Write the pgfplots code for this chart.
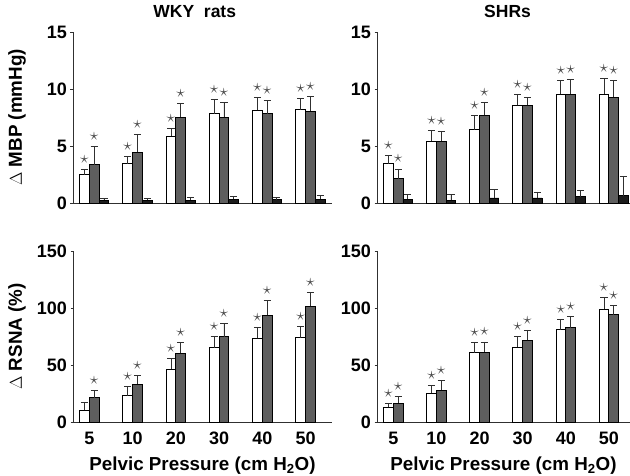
\documentclass[border=0pt]{standalone}
\usepackage{pgfplots}
\usepackage{pgfplotstable}
\pgfplotsset{compat=1.18}
\usepackage{fontspec}
\setmainfont{Liberation Sans}

\definecolor{barGray}{HTML}{5E5E5E}
\definecolor{barBlack}{HTML}{1C1C1C}
\definecolor{axisGray}{HTML}{303030}
\definecolor{starGray}{HTML}{4A4A4A}

\newcommand\tickfont{\fontsize{18}{18}\selectfont\bfseries}
\newcommand\labfont{\fontsize{18.8}{18.8}\selectfont\bfseries}
\newcommand\titfont{\fontsize{17.5}{17.5}\selectfont\bfseries}
\newcommand\starsym{{\fontsize{17.5}{17.5}\selectfont$\star$}}

% i = group (5,10,20,30,40,50 cm H2O); w/g/b = white/gray/black bar, e = SEM, s = star flag
\pgfplotstableread{
i w    we   ws g    ge   gs b    be
0 2.46 0.50 1  3.37 1.58 1  0.26 0.18
1 3.43 0.67 1  4.45 1.59 1  0.25 0.15
2 5.86 0.70 1  7.53 1.23 1  0.25 0.25
3 7.85 1.26 1  7.53 1.29 1  0.35 0.21
4 8.15 1.11 1  7.85 1.15 1  0.30 0.15
5 8.17 1.00 1  8.06 1.26 1  0.35 0.30
}\wkyMBP
\pgfplotstableread{
i w    we   ws g    ge   gs b    be
0 3.43 0.76 1  2.14 0.85 1  0.32 0.44
1 5.42 0.91 1  5.42 0.82 1  0.26 0.50
2 6.42 1.26 1  7.68 1.14 1  0.44 0.73
3 8.56 0.93 1  8.56 0.73 1  0.44 0.53
4 9.55 1.17 1  9.55 1.26 1  0.56 0.52
5 9.55 1.41 1  9.29 1.43 1  0.62 1.69
}\shrMBP
\pgfplotstableread{
i w    we   ws g     ge   gs
0 10.5 6.7  0  21.3  6.7  1
1 23.0 8.2  1  33.2  7.6  1
2 46.3 9.3  1  60.3  9.6  1
3 65.0 10.4 1  74.9  11.6 1
4 73.4 9.9  1  93.5  13.1 1
5 74.0 9.6  1  101.4 11.9 1
}\wkyRSNA
\pgfplotstableread{
i w    we   ws g    ge   gs
0 13.1 3.5  1  16.6 5.8  1
1 25.3 6.4  1  28.0 8.7  1
2 60.6 9.0  1  61.2 9.0  1
3 65.8 9.4  1  71.7 9.0  1
4 81.0 9.0  1  82.7 10.2 1
5 98.7 10.5 1  94.1 8.1  1
}\shrRSNA

\pgfplotsset{
  panel/.style={
    scale only axis, height=171pt,
    axis lines=left, axis line style={-, draw=axisGray, line width=0.8pt},
    xmin=-0.49, ymin=0,
    tick align=outside, major tick length=2.5pt,
    tick style={axisGray, line width=0.8pt},
    xtick style={draw=none},
    /pgf/number format/assume math mode=true,
    yticklabel={\tickfont\pgfmathprintnumber{\tick}},
    yticklabel style={font=\tickfont},
    xticklabel style={font=\tickfont},
    label style={font=\labfont},
    title style={font=\titfont, anchor=base},
    ylabel style={at={(axis description cs:-0.216,0.5)}, anchor=center},
    xlabel style={at={(axis description cs:0.5,-0.281)}, anchor=base},
    clip=false,
  },
  leftpanel/.style={panel, width=259pt, xmax=5.5},
  rightpanel/.style={panel, width=253pt, xmax=5.38},
  toprow/.style={ymax=15, ytick={0,5,10,15}, xtick=\empty},
  bottomrow/.style={ymax=150, ytick={0,50,100,150},
    xtick={-0.11,0.89,1.89,2.89,3.89,4.89},
    xticklabels={5,10,20,30,40,50},
    xticklabel style={anchor=base, yshift=-20pt},
    xlabel={Pelvic Pressure (cm H\textsubscript{2}O)}},
  errs/.style={error bars/.cd, y dir=plus, y explicit,
    error bar style={line width=0.8pt, draw=axisGray},
    error mark options={rotate=90, mark size=3.6pt, line width=0.8pt, draw=axisGray}},
  barbase/.style={ybar, bar width=0.225, bar shift=0pt, draw=black, line width=0.9pt},
  whitebar/.style={barbase, fill=white, errs},
  graybar/.style={barbase, fill=barGray, errs},
  blackbar/.style={barbase, fill=barBlack, errs},
  stars/.style={draw=none, mark=none, nodes near coords={\starsym},
    every node near coord/.append style={anchor=center, yshift=10pt, inner sep=0pt, text=starGray}},
}

\begin{document}
\begin{tikzpicture}
\useasboundingbox (0,0) rectangle (630pt,476pt);

% WKY, MBP
\begin{axis}[leftpanel, toprow, at={(73pt,273pt)}, anchor=south west,
  title={WKY\ \ rats}, title style={at={(axis description cs:0.47,1.047)}},
  ylabel={$\Delta$ MBP (mmHg)}]
\addplot[whitebar] table[x expr=\thisrow{i}-0.225, y=w, y error=we] {\wkyMBP};
\addplot[graybar] table[x=i, y=g, y error=ge] {\wkyMBP};
\addplot[blackbar] table[x expr=\thisrow{i}+0.225, y=b, y error=be] {\wkyMBP};
\addplot[stars, restrict expr to domain={\thisrow{ws}}{0.5:1.5}]
  table[x expr=\thisrow{i}-0.225, y expr=\thisrow{w}+\thisrow{we}] {\wkyMBP};
\addplot[stars, restrict expr to domain={\thisrow{gs}}{0.5:1.5}]
  table[x=i, y expr=\thisrow{g}+\thisrow{ge}] {\wkyMBP};
\end{axis}

% SHR, MBP
\begin{axis}[rightpanel, toprow, at={(377pt,273pt)}, anchor=south west,
  title={SHRs}, title style={at={(axis description cs:0.516,1.047)}}]
\addplot[whitebar] table[x expr=\thisrow{i}-0.225, y=w, y error=we] {\shrMBP};
\addplot[graybar] table[x=i, y=g, y error=ge] {\shrMBP};
\addplot[blackbar] table[x expr=\thisrow{i}+0.225, y=b, y error=be] {\shrMBP};
\addplot[stars, restrict expr to domain={\thisrow{ws}}{0.5:1.5}]
  table[x expr=\thisrow{i}-0.225, y expr=\thisrow{w}+\thisrow{we}] {\shrMBP};
\addplot[stars, restrict expr to domain={\thisrow{gs}}{0.5:1.5}]
  table[x=i, y expr=\thisrow{g}+\thisrow{ge}] {\shrMBP};
\end{axis}

% WKY, RSNA
\begin{axis}[leftpanel, bottomrow, at={(73pt,54pt)}, anchor=south west,
  ylabel={$\Delta$ RSNA (\%)}]
\addplot[whitebar] table[x expr=\thisrow{i}-0.225, y=w, y error=we] {\wkyRSNA};
\addplot[graybar] table[x=i, y=g, y error=ge] {\wkyRSNA};
\addplot[stars, restrict expr to domain={\thisrow{ws}}{0.5:1.5}]
  table[x expr=\thisrow{i}-0.225, y expr=\thisrow{w}+\thisrow{we}] {\wkyRSNA};
\addplot[stars, restrict expr to domain={\thisrow{gs}}{0.5:1.5}]
  table[x=i, y expr=\thisrow{g}+\thisrow{ge}] {\wkyRSNA};
\end{axis}

% SHR, RSNA
\begin{axis}[rightpanel, bottomrow, at={(377pt,54pt)}, anchor=south west]
\addplot[whitebar] table[x expr=\thisrow{i}-0.225, y=w, y error=we] {\shrRSNA};
\addplot[graybar] table[x=i, y=g, y error=ge] {\shrRSNA};
\addplot[stars, restrict expr to domain={\thisrow{ws}}{0.5:1.5}]
  table[x expr=\thisrow{i}-0.225, y expr=\thisrow{w}+\thisrow{we}] {\shrRSNA};
\addplot[stars, restrict expr to domain={\thisrow{gs}}{0.5:1.5}]
  table[x=i, y expr=\thisrow{g}+\thisrow{ge}] {\shrRSNA};
\end{axis}
\end{tikzpicture}
\end{document}
